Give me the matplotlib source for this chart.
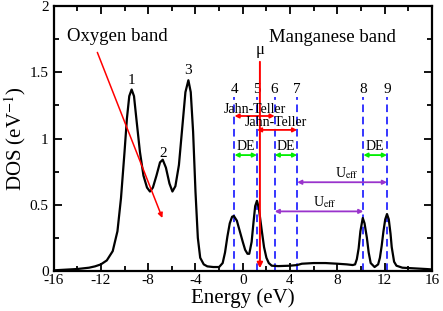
import matplotlib
matplotlib.use('Agg')
import matplotlib.pyplot as plt

plt.rcParams['font.family'] = ['Liberation Serif', 'DejaVu Serif']
plt.rcParams['mathtext.fontset'] = 'stix'
plt.rcParams['axes.unicode_minus'] = False

# DOS curve (energy in eV, DOS in 1/eV)
energy = [-16, -15, -14, -13, -12.5, -12, -11.5, -11, -10.6, -10.3, -10.0, -9.8, -9.6, -9.4,
          -9.2, -9.0, -8.7, -8.4, -8.1, -7.85, -7.6, -7.3, -7.0, -6.77, -6.5, -6.2, -5.95,
          -5.7, -5.4, -5.1, -4.85, -4.6, -4.4, -4.2, -4.0, -3.8, -3.6, -3.3, -3.0, -2.5,
          -2.0, -1.7, -1.5, -1.3, -1.1, -0.9, -0.75, -0.5, -0.25, 0.0, 0.2, 0.4, 0.55, 0.75,
          0.9, 1.05, 1.2, 1.35, 1.6, 1.8, 2.0, 2.2, 2.45, 3.0, 4.0, 4.6, 5.0, 6.0, 7.0, 8.0,
          8.8, 9.3, 9.5, 9.65, 9.8, 9.95, 10.15, 10.3, 10.5, 10.65, 10.82, 11.15, 11.45,
          11.6, 11.75, 11.9, 12.05, 12.2, 12.35, 12.5, 12.6, 12.8, 13.0, 13.5, 14.5, 15.5, 16]
dos = [0.005, 0.01, 0.015, 0.025, 0.035, 0.05, 0.08, 0.15, 0.3, 0.55, 0.9, 1.15, 1.32, 1.37,
       1.32, 1.15, 0.9, 0.72, 0.63, 0.60, 0.63, 0.72, 0.82, 0.84, 0.78, 0.66, 0.60,
       0.64, 0.8, 1.1, 1.35, 1.44, 1.35, 1.05, 0.6, 0.25, 0.1, 0.05, 0.035, 0.03,
       0.03, 0.06, 0.14, 0.26, 0.36, 0.41, 0.415, 0.38, 0.30, 0.22, 0.16, 0.13, 0.13, 0.22,
       0.36, 0.49, 0.53, 0.48, 0.31, 0.18, 0.10, 0.06, 0.04, 0.037, 0.04, 0.045, 0.055, 0.06, 0.06, 0.055,
       0.05, 0.045, 0.05, 0.09, 0.17, 0.3, 0.40, 0.36, 0.25, 0.14, 0.06, 0.03, 0.05,
       0.1, 0.19, 0.3, 0.39, 0.43, 0.39, 0.28, 0.18, 0.07, 0.04, 0.025, 0.02, 0.015, 0.012]

peak_labels = ['1', '2', '3']
peak_label_x = [-9.4, -6.77, -4.6]
peak_label_y = [1.44, 0.89, 1.51]

mn_labels = ['4', '5', '6', '7', '8', '9']
mn_x = [-0.7, 1.2, 2.7, 4.6, 10.2, 12.2]
mu_x = 1.45

fig = plt.figure(figsize=(4.43, 3.11), dpi=100)
ax = fig.add_axes([0.121, 0.1286, 0.854, 0.852])

ax.plot(energy, dos, color='k', lw=1.6, zorder=3)

# blue dashed lines at the Mn peaks
ax.vlines(mn_x, 0, 1.31, colors='#0000ff', linestyles=(0, (5, 3)), lw=1.1, zorder=2)

for s, x, y in zip(peak_labels, peak_label_x, peak_label_y):
    ax.text(x, y, s, ha='center', va='center', fontsize=11)
for s, x in zip(mn_labels, mn_x):
    ax.text(x, 1.37, s, ha='center', va='center', fontsize=11)

# chemical potential
ax.annotate('', xy=(mu_x, 0.0), xytext=(mu_x, 1.6),
            arrowprops=dict(arrowstyle='-|>', color='#ff0000', lw=1.4, mutation_scale=8))
ax.text(mu_x, 1.67, 'μ', ha='center', va='center', fontsize=12)

def darrow(x0, x1, y, c):
    ax.annotate('', xy=(x1, y), xytext=(x0, y),
                arrowprops=dict(arrowstyle='<|-|>', color=c, lw=1.3, mutation_scale=6,
                                shrinkA=0, shrinkB=0))

# Jahn-Teller
darrow(mn_x[0], mn_x[2], 1.17, '#ff0000')
ax.text(1.0, 1.22, 'Jahn-Teller', ha='center', va='center', fontsize=10)
darrow(mn_x[1], mn_x[3], 1.065, '#ff0000')
ax.text(2.8, 1.12, 'Jahn-Teller', ha='center', va='center', fontsize=10)

# DE
for a, b in [(0, 1), (2, 3), (4, 5)]:
    darrow(mn_x[a], mn_x[b], 0.875, '#00ee00')
    ax.text((mn_x[a] + mn_x[b]) / 2, 0.94, 'DE', ha='center', va='center', fontsize=10)

# U_eff
darrow(mn_x[3], mn_x[5], 0.67, '#9933cc')
ax.text(8.8, 0.74, r'U$_{\mathrm{eff}}$', ha='center', va='center', fontsize=10)
darrow(mn_x[2], mn_x[4], 0.45, '#9933cc')
ax.text(6.9, 0.52, r'U$_{\mathrm{eff}}$', ha='center', va='center', fontsize=10)

# band annotations
ax.text(-10.6, 1.77, 'Oxygen band', ha='center', va='center', fontsize=13.5)
ax.annotate('', xy=(-6.8, 0.40), xytext=(-12.3, 1.65),
            arrowprops=dict(arrowstyle='-|>', color='#ff0000', lw=1.1, mutation_scale=7,
                            shrinkA=0, shrinkB=0))
ax.text(7.6, 1.76, 'Manganese band', ha='center', va='center', fontsize=13.5)

ax.set_xlim(-16, 16)
ax.set_ylim(0, 2)
ax.set_xticks(range(-16, 17, 4))
ax.set_xticks(range(-14, 17, 4), minor=True)
ax.set_yticks([0, 0.5, 1, 1.5, 2])
ax.set_yticklabels(['0', '0.5', '1', '1.5', '2'])
ax.set_yticks([0.25, 0.75, 1.25, 1.75], minor=True)
ax.tick_params(which='both', direction='in', top=True, right=True, labelsize=11, width=1.3)
ax.tick_params(which='major', length=6)
ax.tick_params(which='minor', length=3.5)
ax.tick_params(axis='x', pad=2)
for sp in ax.spines.values():
    sp.set_linewidth(1.6)

ax.set_xlabel('Energy (eV)', fontsize=15, labelpad=1)
ax.set_ylabel(r'DOS (eV$^{-1}$)', fontsize=15, labelpad=1)

fig.savefig('out.png', dpi=100)
